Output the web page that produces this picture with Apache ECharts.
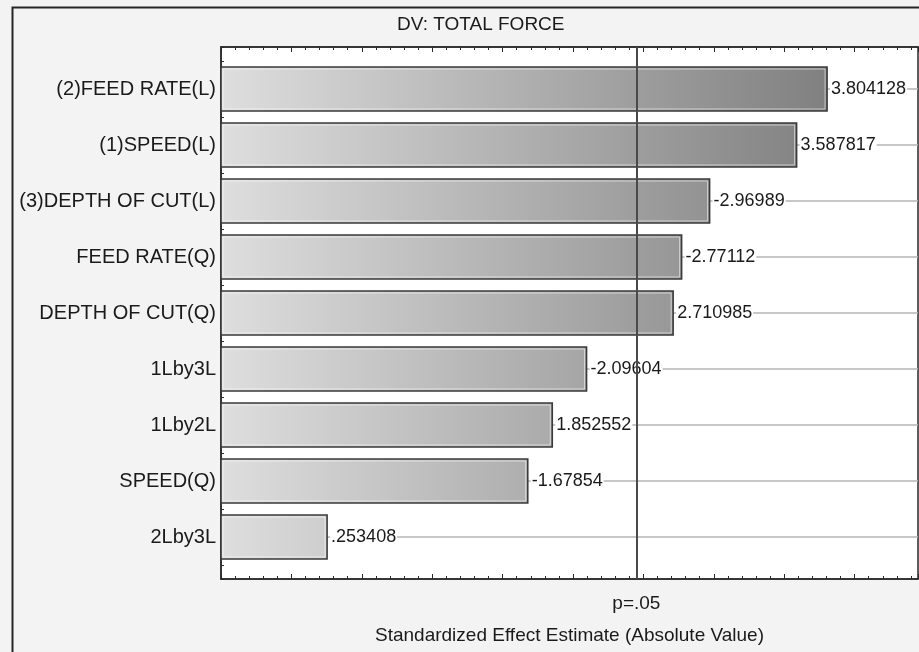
<!DOCTYPE html>
<html>
<head>
<meta charset="utf-8">
<script src="https://cdn.jsdelivr.net/npm/echarts@6/dist/echarts.min.js"></script>
<style>
html,body{margin:0;padding:0;background:#fafafa;}
#c{width:919px;height:652px;}
</style>
</head>
<body>
<div id="c"></div>
<script>
const chartTitle = 'DV: TOTAL FORCE';
const xTitle = 'Standardized Effect Estimate (Absolute Value)';
const categories = ['(2)FEED RATE(L)','(1)SPEED(L)','(3)DEPTH OF CUT(L)','FEED RATE(Q)','DEPTH OF CUT(Q)','1Lby3L','1Lby2L','SPEED(Q)','2Lby3L'];
const effects = [3.804128, 3.587817, -2.96989, -2.77112, 2.710985, -2.09604, 1.852552, -1.67854, 0.253408];
const pValueLine = 2.446912;
const pLabel = 'p=.05';
const xMin = -0.5, xMax = 4.45;

const FONT = 'Liberation Sans';
const fmt = v => String(v).replace(/^(-?)0\./, '$1.');

const chart = echarts.init(document.getElementById('c'));

function renderItem(params, api) {
  const idx = params.dataIndex;
  const i = api.value(1);
  const v = api.value(0);
  const start = api.coord([xMin, i]);
  const end = api.coord([v, i]);
  const right = api.coord([xMax, i]);
  const h = api.size([0, 1])[1] * 0.786;
  const grad = new echarts.graphic.LinearGradient(start[0], 0, right[0], 0, [
    {offset: 0, color: '#dedede'},
    {offset: 1, color: '#727272'}
  ], true);
  return {
    type: 'group',
    children: [
      {type: 'line', shape: {x1: start[0], y1: start[1], x2: right[0], y2: right[1]},
       style: {stroke: '#b4b4b4', lineWidth: 1.5}},
      {type: 'rect', shape: {x: start[0], y: start[1] - h / 2, width: end[0] - start[0], height: h},
       style: {fill: grad, stroke: '#3a3a3a', lineWidth: 1.6}},
      {type: 'rect', shape: {x: start[0] + 2, y: start[1] - h / 2 + 2, width: end[0] - start[0] - 4, height: h - 4},
       style: {fill: 'none', stroke: 'rgba(255,255,255,0.55)', lineWidth: 1}},
      {type: 'text', style: {text: fmt(effects[idx]), x: end[0] + 3, y: end[1], verticalAlign: 'middle',
        fill: '#1a1a1a', font: '18px "' + FONT + '"', backgroundColor: '#ffffff', padding: [1, 1]}}
    ]
  };
}

const axisCommon = {
  type: 'value', min: xMin, max: xMax, interval: 0.5,
  axisLine: {show: true, onZero: false, lineStyle: {color: '#2a2a2a', width: 1.5}},
  axisTick: {show: true, inside: true, length: 5, lineStyle: {color: '#2a2a2a'}},
  minorTick: {show: true, splitNumber: 5, length: 3, lineStyle: {color: '#2a2a2a'}},
  axisLabel: {show: false}, splitLine: {show: false}
};

const option = {
  backgroundColor: '#f3f3f3',
  animation: false,
  graphic: [{
    type: 'rect', left: 10, top: 5, shape: {width: 960, height: 700},
    style: {fill: 'none', stroke: '#262626', lineWidth: 2}, z: 100
  }],
  title: {
    text: chartTitle, left: 392, top: 10,
    textStyle: {fontFamily: FONT, fontSize: 19, fontWeight: 'normal', color: '#1a1a1a'}
  },
  grid: {left: 221, right: 1, top: 47, bottom: 73, show: true, backgroundColor: '#ffffff', borderColor: '#2a2a2a', borderWidth: 1.5},
  xAxis: [Object.assign({}, axisCommon, {
    position: 'bottom',
    name: xTitle, nameLocation: 'middle', nameGap: 47,
    nameTextStyle: {fontFamily: FONT, fontSize: 19, color: '#1a1a1a'}
  }), Object.assign({}, axisCommon, {position: 'top'})],
  yAxis: {
    type: 'value', inverse: true, min: -0.75, max: 8.75, interval: 0.25,
    axisLine: {show: true, onZero: false, lineStyle: {color: '#2a2a2a', width: 1.5}},
    axisTick: {show: true, inside: true, length: 3, lineStyle: {color: '#2a2a2a'}},
    splitLine: {show: false},
    axisLabel: {
      margin: 5, fontFamily: FONT, fontSize: 20, color: '#1a1a1a',
      formatter: v => (Math.abs(v - Math.round(v)) < 1e-6 && categories[Math.round(v)] !== undefined) ? categories[Math.round(v)] : ''
    }
  },
  series: [{
    type: 'custom',
    renderItem: renderItem,
    encode: {x: 0, y: 1},
    data: effects.map((v, i) => [Math.abs(v), i]),
    z: 2
  }, {
    type: 'line', data: [], z: 10,
    markLine: {
      silent: true, symbol: 'none', animation: false,
      lineStyle: {color: '#4a4a4a', width: 2, type: 'solid'},
      label: {show: true, position: 'end', formatter: pLabel, distance: 15,
        fontFamily: FONT, fontSize: 19, color: '#1a1a1a'},
      data: [{xAxis: pValueLine}]
    }
  }]
};
chart.setOption(option);
</script>
</body>
</html>
